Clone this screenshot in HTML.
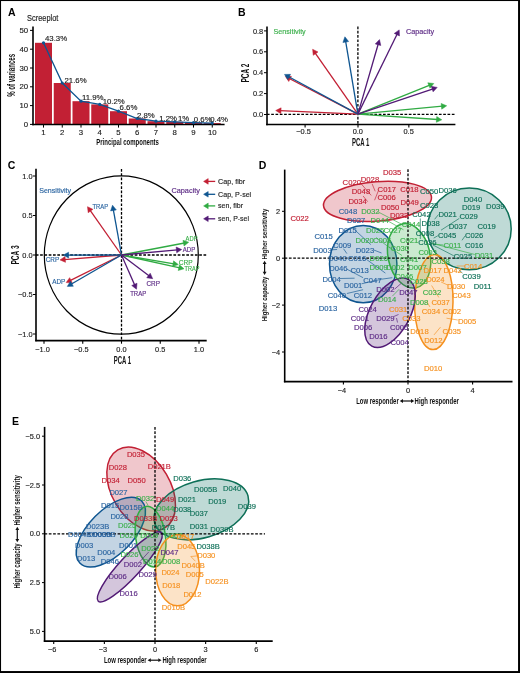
<!DOCTYPE html>
<html><head><meta charset="utf-8"><style>
html,body{margin:0;padding:0;background:#fff;}
body{width:520px;height:673px;overflow:hidden;}
svg{display:block;font-family:"Liberation Sans", sans-serif;}
</style></head><body>
<svg width="520" height="673" viewBox="0 0 520 673">
<rect x="0" y="0" width="520" height="673" fill="#fff"/>
<g style="will-change:transform">
<text x="8.1" y="16.2" font-size="10.5" fill="#000" font-weight="bold">A</text>
<text x="27.1" y="21.3" font-size="8.7" fill="#222" textLength="31.2" lengthAdjust="spacingAndGlyphs" stroke="#222" stroke-width="0.15">Screeplot</text>
<rect x="35" y="42.8" width="17" height="81.6" fill="#C22034"/>
<rect x="53.75" y="83" width="17" height="41.4" fill="#C22034"/>
<rect x="72.5" y="101.2" width="17" height="23.2" fill="#C22034"/>
<rect x="91.25" y="104.4" width="17" height="20" fill="#C22034"/>
<rect x="110" y="111.2" width="17" height="13.2" fill="#C22034"/>
<rect x="128.75" y="118.5" width="17" height="5.9" fill="#C22034"/>
<rect x="147.5" y="121.2" width="17" height="3.2" fill="#C22034"/>
<rect x="166.25" y="121.8" width="17" height="2.6" fill="#C22034"/>
<rect x="185" y="122.6" width="17" height="1.8" fill="#C22034"/>
<rect x="203.75" y="123.1" width="17" height="1.3" fill="#C22034"/>
<line x1="33" y1="26.5" x2="33" y2="125.2" stroke="#000" stroke-width="1.6" stroke-linecap="butt"/>
<line x1="32.2" y1="124.4" x2="224.6" y2="124.4" stroke="#000" stroke-width="1.5" stroke-linecap="butt"/>
<line x1="30" y1="124.4" x2="33" y2="124.4" stroke="#000" stroke-width="1" stroke-linecap="butt"/>
<text x="28.2" y="127" font-size="7.8" fill="#222" text-anchor="end" stroke="#222" stroke-width="0.15">0</text>
<line x1="30" y1="105.6" x2="33" y2="105.6" stroke="#000" stroke-width="1" stroke-linecap="butt"/>
<text x="28.2" y="108.2" font-size="7.8" fill="#222" text-anchor="end" stroke="#222" stroke-width="0.15">10</text>
<line x1="30" y1="86.8" x2="33" y2="86.8" stroke="#000" stroke-width="1" stroke-linecap="butt"/>
<text x="28.2" y="89.4" font-size="7.8" fill="#222" text-anchor="end" stroke="#222" stroke-width="0.15">20</text>
<line x1="30" y1="68" x2="33" y2="68" stroke="#000" stroke-width="1" stroke-linecap="butt"/>
<text x="28.2" y="70.6" font-size="7.8" fill="#222" text-anchor="end" stroke="#222" stroke-width="0.15">30</text>
<line x1="30" y1="49.2" x2="33" y2="49.2" stroke="#000" stroke-width="1" stroke-linecap="butt"/>
<text x="28.2" y="51.8" font-size="7.8" fill="#222" text-anchor="end" stroke="#222" stroke-width="0.15">40</text>
<line x1="30" y1="30.4" x2="33" y2="30.4" stroke="#000" stroke-width="1" stroke-linecap="butt"/>
<text x="28.2" y="33" font-size="7.8" fill="#222" text-anchor="end" stroke="#222" stroke-width="0.15">50</text>
<line x1="43.5" y1="124.4" x2="43.5" y2="127.6" stroke="#000" stroke-width="1" stroke-linecap="butt"/>
<text x="43.5" y="135.3" font-size="7.8" fill="#222" text-anchor="middle" stroke="#222" stroke-width="0.15">1</text>
<line x1="62.25" y1="124.4" x2="62.25" y2="127.6" stroke="#000" stroke-width="1" stroke-linecap="butt"/>
<text x="62.25" y="135.3" font-size="7.8" fill="#222" text-anchor="middle" stroke="#222" stroke-width="0.15">2</text>
<line x1="81" y1="124.4" x2="81" y2="127.6" stroke="#000" stroke-width="1" stroke-linecap="butt"/>
<text x="81" y="135.3" font-size="7.8" fill="#222" text-anchor="middle" stroke="#222" stroke-width="0.15">3</text>
<line x1="99.75" y1="124.4" x2="99.75" y2="127.6" stroke="#000" stroke-width="1" stroke-linecap="butt"/>
<text x="99.75" y="135.3" font-size="7.8" fill="#222" text-anchor="middle" stroke="#222" stroke-width="0.15">4</text>
<line x1="118.5" y1="124.4" x2="118.5" y2="127.6" stroke="#000" stroke-width="1" stroke-linecap="butt"/>
<text x="118.5" y="135.3" font-size="7.8" fill="#222" text-anchor="middle" stroke="#222" stroke-width="0.15">5</text>
<line x1="137.25" y1="124.4" x2="137.25" y2="127.6" stroke="#000" stroke-width="1" stroke-linecap="butt"/>
<text x="137.25" y="135.3" font-size="7.8" fill="#222" text-anchor="middle" stroke="#222" stroke-width="0.15">6</text>
<line x1="156" y1="124.4" x2="156" y2="127.6" stroke="#000" stroke-width="1" stroke-linecap="butt"/>
<text x="156" y="135.3" font-size="7.8" fill="#222" text-anchor="middle" stroke="#222" stroke-width="0.15">7</text>
<line x1="174.75" y1="124.4" x2="174.75" y2="127.6" stroke="#000" stroke-width="1" stroke-linecap="butt"/>
<text x="174.75" y="135.3" font-size="7.8" fill="#222" text-anchor="middle" stroke="#222" stroke-width="0.15">8</text>
<line x1="193.5" y1="124.4" x2="193.5" y2="127.6" stroke="#000" stroke-width="1" stroke-linecap="butt"/>
<text x="193.5" y="135.3" font-size="7.8" fill="#222" text-anchor="middle" stroke="#222" stroke-width="0.15">9</text>
<line x1="212.25" y1="124.4" x2="212.25" y2="127.6" stroke="#000" stroke-width="1" stroke-linecap="butt"/>
<text x="212.25" y="135.3" font-size="7.8" fill="#222" text-anchor="middle" stroke="#222" stroke-width="0.15">10</text>
<polyline points="43.5,42.8 62.25,83 81,101.2 99.75,104.4 118.5,111.2 137.25,118.5 156,121.2 174.75,121.8 193.5,122.6 212.25,123.1" fill="none" stroke="#0E5590" stroke-width="1.3"/>
<circle cx="43.5" cy="42.8" r="1.6" fill="#0E5590"/>
<circle cx="62.25" cy="83" r="1.6" fill="#0E5590"/>
<circle cx="81" cy="101.2" r="1.6" fill="#0E5590"/>
<circle cx="99.75" cy="104.4" r="1.6" fill="#0E5590"/>
<circle cx="118.5" cy="111.2" r="1.6" fill="#0E5590"/>
<circle cx="137.25" cy="118.5" r="1.6" fill="#0E5590"/>
<circle cx="156" cy="121.2" r="1.6" fill="#0E5590"/>
<circle cx="174.75" cy="121.8" r="1.6" fill="#0E5590"/>
<circle cx="193.5" cy="122.6" r="1.6" fill="#0E5590"/>
<circle cx="212.25" cy="123.1" r="1.6" fill="#0E5590"/>
<text x="45" y="41.3" font-size="7.8" fill="#222" stroke="#222" stroke-width="0.15">43.3%</text>
<text x="64.5" y="82.5" font-size="7.8" fill="#222" stroke="#222" stroke-width="0.15">21.6%</text>
<text x="82" y="100.2" font-size="7.8" fill="#222" stroke="#222" stroke-width="0.15">11.9%</text>
<text x="102.7" y="104" font-size="7.8" fill="#222" stroke="#222" stroke-width="0.15">10.2%</text>
<text x="119.6" y="110.4" font-size="7.8" fill="#222" stroke="#222" stroke-width="0.15">6.6%</text>
<text x="137" y="117.5" font-size="7.8" fill="#222" stroke="#222" stroke-width="0.15">2.8%</text>
<text x="159.2" y="121.3" font-size="7.8" fill="#222" stroke="#222" stroke-width="0.15">1.2%</text>
<text x="177.9" y="121.3" font-size="7.8" fill="#222" stroke="#222" stroke-width="0.15">1%</text>
<text x="193.8" y="121.6" font-size="7.8" fill="#222" stroke="#222" stroke-width="0.15">0.6%</text>
<text x="210.2" y="121.6" font-size="7.8" fill="#222" stroke="#222" stroke-width="0.15">0.4%</text>
<text x="127.6" y="144.9" font-size="9.6" fill="#111" text-anchor="middle" textLength="62.7" lengthAdjust="spacingAndGlyphs" font-weight="bold">Principal components</text>
<text x="15.3" y="75.3" font-size="10.4" fill="#111" text-anchor="middle" textLength="43" lengthAdjust="spacingAndGlyphs" font-weight="bold" transform="rotate(-90 15.3 75.3)">% of variances</text>
<text x="238" y="16.2" font-size="10.5" fill="#000" font-weight="bold">B</text>
<line x1="357.9" y1="26.5" x2="357.9" y2="124.3" stroke="#000" stroke-width="1.3" stroke-dasharray="2.7,1.6" stroke-linecap="butt"/>
<line x1="266.9" y1="114.35" x2="455" y2="114.35" stroke="#000" stroke-width="1.3" stroke-dasharray="2.7,1.6" stroke-linecap="butt"/>
<line x1="267" y1="26.5" x2="267" y2="125.3" stroke="#000" stroke-width="1.6" stroke-linecap="butt"/>
<line x1="266.2" y1="124.5" x2="455.4" y2="124.5" stroke="#000" stroke-width="1.6" stroke-linecap="butt"/>
<line x1="264" y1="114.5" x2="266.9" y2="114.5" stroke="#000" stroke-width="1" stroke-linecap="butt"/>
<text x="263.2" y="117.1" font-size="7.4" fill="#222" text-anchor="end" stroke="#222" stroke-width="0.15">0.0</text>
<line x1="264" y1="93.6" x2="266.9" y2="93.6" stroke="#000" stroke-width="1" stroke-linecap="butt"/>
<text x="263.2" y="96.2" font-size="7.4" fill="#222" text-anchor="end" stroke="#222" stroke-width="0.15">0.2</text>
<line x1="264" y1="72.7" x2="266.9" y2="72.7" stroke="#000" stroke-width="1" stroke-linecap="butt"/>
<text x="263.2" y="75.3" font-size="7.4" fill="#222" text-anchor="end" stroke="#222" stroke-width="0.15">0.4</text>
<line x1="264" y1="51.8" x2="266.9" y2="51.8" stroke="#000" stroke-width="1" stroke-linecap="butt"/>
<text x="263.2" y="54.4" font-size="7.4" fill="#222" text-anchor="end" stroke="#222" stroke-width="0.15">0.6</text>
<line x1="264" y1="30.9" x2="266.9" y2="30.9" stroke="#000" stroke-width="1" stroke-linecap="butt"/>
<text x="263.2" y="33.5" font-size="7.4" fill="#222" text-anchor="end" stroke="#222" stroke-width="0.15">0.8</text>
<line x1="305.1" y1="124.5" x2="305.1" y2="127.6" stroke="#000" stroke-width="1.1" stroke-linecap="butt"/>
<text x="303.5" y="134.1" font-size="7.4" fill="#222" text-anchor="middle" stroke="#222" stroke-width="0.15">−0.5</text>
<line x1="358" y1="124.5" x2="358" y2="127.6" stroke="#000" stroke-width="1.1" stroke-linecap="butt"/>
<text x="357.8" y="134.1" font-size="7.4" fill="#222" text-anchor="middle" stroke="#222" stroke-width="0.15">0.0</text>
<line x1="408.85" y1="124.5" x2="408.85" y2="127.6" stroke="#000" stroke-width="1.1" stroke-linecap="butt"/>
<text x="408.65" y="134.1" font-size="7.4" fill="#222" text-anchor="middle" stroke="#222" stroke-width="0.15">0.5</text>
<text x="360.6" y="145.8" font-size="10.8" fill="#111" text-anchor="middle" textLength="17.3" lengthAdjust="spacingAndGlyphs" font-weight="bold">PCA 1</text>
<text x="248.8" y="73" font-size="10.8" fill="#111" text-anchor="middle" textLength="19" lengthAdjust="spacingAndGlyphs" font-weight="bold" transform="rotate(-90 248.8 73)">PCA 2</text>
<text x="273.5" y="34.3" font-size="7.2" fill="#3AAF4A" textLength="32.2" lengthAdjust="spacingAndGlyphs" stroke="#3AAF4A" stroke-width="0.15">Sensitivity</text>
<text x="406" y="34.3" font-size="7.2" fill="#5C2A85" textLength="28.2" lengthAdjust="spacingAndGlyphs" stroke="#5C2A85" stroke-width="0.15">Capacity</text>
<line x1="357.9" y1="114.1" x2="280" y2="110.69" stroke="#C22034" stroke-width="1.3"/>
<polygon points="275.7,110.5 281.12,107.83 280.87,113.63" fill="#C22034" stroke="#C22034" stroke-width="0.5" stroke-linejoin="miter"/>
<line x1="357.9" y1="114.1" x2="289.22" y2="78.48" stroke="#C22034" stroke-width="1.3"/>
<polygon points="285.4,76.5 291.44,76.37 288.77,81.51" fill="#C22034" stroke="#C22034" stroke-width="0.5" stroke-linejoin="miter"/>
<line x1="357.9" y1="114.1" x2="315.06" y2="52.82" stroke="#C22034" stroke-width="1.3"/>
<polygon points="312.6,49.3 318.01,51.98 313.26,55.31" fill="#C22034" stroke="#C22034" stroke-width="0.5" stroke-linejoin="miter"/>
<line x1="357.9" y1="114.1" x2="288.28" y2="76.45" stroke="#0E5590" stroke-width="1.3"/>
<polygon points="284.5,74.4 290.54,74.37 287.78,79.47" fill="#0E5590" stroke="#0E5590" stroke-width="0.5" stroke-linejoin="miter"/>
<line x1="357.9" y1="114.1" x2="345.61" y2="41.04" stroke="#0E5590" stroke-width="1.3"/>
<polygon points="344.9,36.8 348.64,41.55 342.92,42.51" fill="#0E5590" stroke="#0E5590" stroke-width="0.5" stroke-linejoin="miter"/>
<line x1="357.9" y1="114.1" x2="429.81" y2="85.11" stroke="#30AB43" stroke-width="1.3"/>
<polygon points="433.8,83.5 429.97,88.17 427.8,82.79" fill="#30AB43" stroke="#30AB43" stroke-width="0.5" stroke-linejoin="miter"/>
<line x1="357.9" y1="114.1" x2="442.42" y2="106.2" stroke="#30AB43" stroke-width="1.3"/>
<polygon points="446.7,105.8 441.69,109.18 441.15,103.41" fill="#30AB43" stroke="#30AB43" stroke-width="0.5" stroke-linejoin="miter"/>
<line x1="357.9" y1="114.1" x2="437.51" y2="119.51" stroke="#30AB43" stroke-width="1.3"/>
<polygon points="441.8,119.8 436.32,122.33 436.71,116.55" fill="#30AB43" stroke="#30AB43" stroke-width="0.5" stroke-linejoin="miter"/>
<line x1="357.9" y1="114.1" x2="378.3" y2="43.73" stroke="#521A75" stroke-width="1.3"/>
<polygon points="379.5,39.6 380.81,45.5 375.24,43.88" fill="#521A75" stroke="#521A75" stroke-width="0.5" stroke-linejoin="miter"/>
<line x1="357.9" y1="114.1" x2="397.31" y2="33.76" stroke="#521A75" stroke-width="1.3"/>
<polygon points="399.2,29.9 399.47,35.94 394.26,33.38" fill="#521A75" stroke="#521A75" stroke-width="0.5" stroke-linejoin="miter"/>
<line x1="357.9" y1="114.1" x2="433.12" y2="88.77" stroke="#521A75" stroke-width="1.3"/>
<polygon points="437.2,87.4 433.1,91.84 431.25,86.34" fill="#521A75" stroke="#521A75" stroke-width="0.5" stroke-linejoin="miter"/>
<text x="7.7" y="169.2" font-size="10.5" fill="#000" font-weight="bold">C</text>
<ellipse cx="121.3" cy="255" rx="77" ry="79.2" fill="none" stroke="#000" stroke-width="1.2"/>
<line x1="121.5" y1="169" x2="121.5" y2="340.5" stroke="#000" stroke-width="1.3" stroke-dasharray="2.7,1.6" stroke-linecap="butt"/>
<line x1="35.8" y1="255" x2="207" y2="255" stroke="#000" stroke-width="1.3" stroke-dasharray="2.7,1.6" stroke-linecap="butt"/>
<line x1="36" y1="168.8" x2="36" y2="341.3" stroke="#000" stroke-width="1.6" stroke-linecap="butt"/>
<line x1="35.2" y1="340.6" x2="206.7" y2="340.6" stroke="#000" stroke-width="1.6" stroke-linecap="butt"/>
<line x1="33" y1="176" x2="35.8" y2="176" stroke="#000" stroke-width="1" stroke-linecap="butt"/>
<text x="32.6" y="178.6" font-size="7.4" fill="#222" text-anchor="end" stroke="#222" stroke-width="0.15">1.0</text>
<line x1="33" y1="215.5" x2="35.8" y2="215.5" stroke="#000" stroke-width="1" stroke-linecap="butt"/>
<text x="32.6" y="218.1" font-size="7.4" fill="#222" text-anchor="end" stroke="#222" stroke-width="0.15">0.5</text>
<line x1="33" y1="255" x2="35.8" y2="255" stroke="#000" stroke-width="1" stroke-linecap="butt"/>
<text x="32.6" y="257.6" font-size="7.4" fill="#222" text-anchor="end" stroke="#222" stroke-width="0.15">0.0</text>
<line x1="33" y1="294.5" x2="35.8" y2="294.5" stroke="#000" stroke-width="1" stroke-linecap="butt"/>
<text x="32.6" y="297.1" font-size="7.4" fill="#222" text-anchor="end" stroke="#222" stroke-width="0.15">−0.5</text>
<line x1="33" y1="334" x2="35.8" y2="334" stroke="#000" stroke-width="1" stroke-linecap="butt"/>
<text x="32.6" y="336.6" font-size="7.4" fill="#222" text-anchor="end" stroke="#222" stroke-width="0.15">−1.0</text>
<line x1="44" y1="340.6" x2="44" y2="343.7" stroke="#000" stroke-width="1.1" stroke-linecap="butt"/>
<text x="42.5" y="351.7" font-size="7.4" fill="#222" text-anchor="middle" stroke="#222" stroke-width="0.15">−1.0</text>
<line x1="82.75" y1="340.6" x2="82.75" y2="343.7" stroke="#000" stroke-width="1.1" stroke-linecap="butt"/>
<text x="81.25" y="351.7" font-size="7.4" fill="#222" text-anchor="middle" stroke="#222" stroke-width="0.15">−0.5</text>
<line x1="121.5" y1="340.6" x2="121.5" y2="343.7" stroke="#000" stroke-width="1.1" stroke-linecap="butt"/>
<text x="121.5" y="351.7" font-size="7.4" fill="#222" text-anchor="middle" stroke="#222" stroke-width="0.15">0.0</text>
<line x1="160.25" y1="340.6" x2="160.25" y2="343.7" stroke="#000" stroke-width="1.1" stroke-linecap="butt"/>
<text x="160.25" y="351.7" font-size="7.4" fill="#222" text-anchor="middle" stroke="#222" stroke-width="0.15">0.5</text>
<line x1="199" y1="340.6" x2="199" y2="343.7" stroke="#000" stroke-width="1.1" stroke-linecap="butt"/>
<text x="199" y="351.7" font-size="7.4" fill="#222" text-anchor="middle" stroke="#222" stroke-width="0.15">1.0</text>
<text x="122.5" y="363.5" font-size="10.8" fill="#111" text-anchor="middle" textLength="17.3" lengthAdjust="spacingAndGlyphs" font-weight="bold">PCA 1</text>
<text x="19.3" y="255" font-size="10.8" fill="#111" text-anchor="middle" textLength="19.2" lengthAdjust="spacingAndGlyphs" font-weight="bold" transform="rotate(-90 19.3 255)">PCA 3</text>
<text x="39.2" y="193.2" font-size="7.2" fill="#2A64A0" textLength="31.9" lengthAdjust="spacingAndGlyphs" stroke="#2A64A0" stroke-width="0.15">Sensitivity</text>
<text x="171.4" y="192.9" font-size="7.2" fill="#5C2A85" textLength="28.6" lengthAdjust="spacingAndGlyphs" stroke="#5C2A85" stroke-width="0.15">Capacity</text>
<line x1="121.5" y1="255" x2="89.98" y2="210.22" stroke="#C22034" stroke-width="1.3"/>
<polygon points="87.5,206.7 92.92,209.36 88.18,212.7" fill="#C22034" stroke="#C22034" stroke-width="0.5" stroke-linejoin="miter"/>
<line x1="121.5" y1="255" x2="64.29" y2="259.56" stroke="#C22034" stroke-width="1.3"/>
<polygon points="60,259.9 65.05,256.59 65.51,262.37" fill="#C22034" stroke="#C22034" stroke-width="0.5" stroke-linejoin="miter"/>
<line x1="121.5" y1="255" x2="70.05" y2="280.68" stroke="#C22034" stroke-width="1.3"/>
<polygon points="66.2,282.6 69.65,277.64 72.24,282.83" fill="#C22034" stroke="#C22034" stroke-width="0.5" stroke-linejoin="miter"/>
<line x1="121.5" y1="255" x2="113.26" y2="209.43" stroke="#0E5590" stroke-width="1.3"/>
<polygon points="112.5,205.2 116.3,209.9 110.59,210.93" fill="#0E5590" stroke="#0E5590" stroke-width="0.5" stroke-linejoin="miter"/>
<line x1="121.5" y1="255" x2="67.6" y2="255.09" stroke="#0E5590" stroke-width="1.3"/>
<polygon points="63.3,255.1 68.6,252.19 68.6,257.99" fill="#0E5590" stroke="#0E5590" stroke-width="0.5" stroke-linejoin="miter"/>
<line x1="121.5" y1="255" x2="71.02" y2="284.24" stroke="#0E5590" stroke-width="1.3"/>
<polygon points="67.3,286.4 70.43,281.23 73.34,286.25" fill="#0E5590" stroke="#0E5590" stroke-width="0.5" stroke-linejoin="miter"/>
<line x1="121.5" y1="255" x2="184.48" y2="243" stroke="#30AB43" stroke-width="1.3"/>
<polygon points="188.7,242.2 184.04,246.04 182.95,240.34" fill="#30AB43" stroke="#30AB43" stroke-width="0.5" stroke-linejoin="miter"/>
<line x1="121.5" y1="255" x2="174.06" y2="263.88" stroke="#30AB43" stroke-width="1.3"/>
<polygon points="178.3,264.6 172.59,266.58 173.56,260.86" fill="#30AB43" stroke="#30AB43" stroke-width="0.5" stroke-linejoin="miter"/>
<line x1="121.5" y1="255" x2="179.8" y2="267.87" stroke="#30AB43" stroke-width="1.3"/>
<polygon points="184,268.8 178.2,270.49 179.45,264.83" fill="#30AB43" stroke="#30AB43" stroke-width="0.5" stroke-linejoin="miter"/>
<line x1="121.5" y1="255" x2="177.42" y2="249.89" stroke="#521A75" stroke-width="1.3"/>
<polygon points="181.7,249.5 176.69,252.87 176.16,247.09" fill="#521A75" stroke="#521A75" stroke-width="0.5" stroke-linejoin="miter"/>
<line x1="121.5" y1="255" x2="149.28" y2="276.1" stroke="#521A75" stroke-width="1.3"/>
<polygon points="152.7,278.7 146.73,277.8 150.23,273.18" fill="#521A75" stroke="#521A75" stroke-width="0.5" stroke-linejoin="miter"/>
<line x1="121.5" y1="255" x2="134.77" y2="285.26" stroke="#521A75" stroke-width="1.3"/>
<polygon points="136.5,289.2 131.72,285.51 137.03,283.18" fill="#521A75" stroke="#521A75" stroke-width="0.5" stroke-linejoin="miter"/>
<text x="92.5" y="209" font-size="6.6" fill="#2A64A0" textLength="15.6" lengthAdjust="spacingAndGlyphs" stroke="#2A64A0" stroke-width="0.15">TRAP</text>
<text x="45.7" y="262.2" font-size="6.6" fill="#2A64A0" textLength="13.5" lengthAdjust="spacingAndGlyphs" stroke="#2A64A0" stroke-width="0.15">CRP</text>
<text x="52.3" y="284.2" font-size="6.6" fill="#2A64A0" textLength="13" lengthAdjust="spacingAndGlyphs" stroke="#2A64A0" stroke-width="0.15">ADP</text>
<text x="185.6" y="241.2" font-size="6.6" fill="#3AAF4A" textLength="11.9" lengthAdjust="spacingAndGlyphs" stroke="#3AAF4A" stroke-width="0.15">ADP</text>
<text x="182.7" y="251.5" font-size="6.6" fill="#5C2A85" textLength="12.5" lengthAdjust="spacingAndGlyphs" stroke="#5C2A85" stroke-width="0.15">ADP</text>
<text x="178.8" y="264.6" font-size="6.6" fill="#3AAF4A" textLength="13.9" lengthAdjust="spacingAndGlyphs" stroke="#3AAF4A" stroke-width="0.15">CRP</text>
<text x="184.6" y="270.8" font-size="6.6" fill="#3AAF4A" textLength="14.8" lengthAdjust="spacingAndGlyphs" stroke="#3AAF4A" stroke-width="0.15">TRAP</text>
<text x="146.5" y="285.8" font-size="6.6" fill="#5C2A85" textLength="13.5" lengthAdjust="spacingAndGlyphs" stroke="#5C2A85" stroke-width="0.15">CRP</text>
<text x="130.2" y="296.3" font-size="6.6" fill="#5C2A85" textLength="16" lengthAdjust="spacingAndGlyphs" stroke="#5C2A85" stroke-width="0.15">TRAP</text>
<line x1="215.2" y1="181.4" x2="207.2" y2="181.4" stroke="#C22034" stroke-width="1.3"/>
<polygon points="203.6,181.4 208.2,178.6 208.2,184.2" fill="#C22034" stroke="#C22034" stroke-width="0.5" stroke-linejoin="miter"/>
<text x="218.1" y="183.9" font-size="7.6" fill="#222" textLength="27.1" lengthAdjust="spacingAndGlyphs" stroke="#222" stroke-width="0.15">Cap, fibr</text>
<line x1="215.2" y1="194.3" x2="207.2" y2="194.3" stroke="#0E5590" stroke-width="1.3"/>
<polygon points="203.6,194.3 208.2,191.5 208.2,197.1" fill="#0E5590" stroke="#0E5590" stroke-width="0.5" stroke-linejoin="miter"/>
<text x="218.1" y="196.8" font-size="7.6" fill="#222" textLength="33.1" lengthAdjust="spacingAndGlyphs" stroke="#222" stroke-width="0.15">Cap, P-sel</text>
<line x1="215.2" y1="205.9" x2="207.2" y2="205.9" stroke="#30AB43" stroke-width="1.3"/>
<polygon points="203.6,205.9 208.2,203.1 208.2,208.7" fill="#30AB43" stroke="#30AB43" stroke-width="0.5" stroke-linejoin="miter"/>
<text x="218.1" y="208.4" font-size="7.6" fill="#222" textLength="25" lengthAdjust="spacingAndGlyphs" stroke="#222" stroke-width="0.15">sen, fibr</text>
<line x1="215.2" y1="218.8" x2="207.2" y2="218.8" stroke="#521A75" stroke-width="1.3"/>
<polygon points="203.6,218.8 208.2,216 208.2,221.6" fill="#521A75" stroke="#521A75" stroke-width="0.5" stroke-linejoin="miter"/>
<text x="218.1" y="221.3" font-size="7.6" fill="#222" textLength="30.9" lengthAdjust="spacingAndGlyphs" stroke="#222" stroke-width="0.15">sen, P-sel</text>
<text x="258.8" y="168.8" font-size="10.5" fill="#000" font-weight="bold">D</text>
<ellipse cx="377.5" cy="201.35" rx="54.15" ry="19.75" transform="rotate(-4.55 377.5 201.35)" fill="#C22034" fill-opacity="0.25" stroke="#C22034" stroke-width="1.5"/>
<ellipse cx="469.3" cy="228.9" rx="41.9" ry="40.8" transform="rotate(0 469.3 228.9)" fill="#006B5B" fill-opacity="0.25" stroke="#0D6F57" stroke-width="1.5"/>
<ellipse cx="363.2" cy="264.1" rx="33.7" ry="38.7" transform="rotate(0 363.2 264.1)" fill="#0E5590" fill-opacity="0.25" stroke="#0E5590" stroke-width="1.5"/>
<ellipse cx="409.1" cy="255.8" rx="21" ry="32.6" transform="rotate(-12.3 409.1 255.8)" fill="#30AB43" fill-opacity="0.25" stroke="#30AB43" stroke-width="1.5"/>
<ellipse cx="433.8" cy="302" rx="19.2" ry="47.6" transform="rotate(1 433.8 302)" fill="#F5901E" fill-opacity="0.25" stroke="#F5901E" stroke-width="1.5"/>
<ellipse cx="390" cy="312.7" rx="20" ry="38" transform="rotate(28.6 390 312.7)" fill="#521A75" fill-opacity="0.25" stroke="#521A75" stroke-width="1.5"/>
<line x1="360.2" y1="182.7" x2="371.2" y2="195.4" stroke="#C22034" stroke-width="0.65" stroke-linecap="butt"/>
<line x1="372.1" y1="183.8" x2="375.2" y2="191.3" stroke="#C22034" stroke-width="0.65" stroke-linecap="butt"/>
<line x1="363.1" y1="196" x2="367.7" y2="201.7" stroke="#C22034" stroke-width="0.65" stroke-linecap="butt"/>
<line x1="378.6" y1="190.2" x2="374.6" y2="200.2" stroke="#C22034" stroke-width="0.65" stroke-linecap="butt"/>
<line x1="355" y1="230.2" x2="370.8" y2="244.6" stroke="#0E5590" stroke-width="0.65" stroke-linecap="butt"/>
<line x1="373.8" y1="250" x2="381.5" y2="253" stroke="#0E5590" stroke-width="0.65" stroke-linecap="butt"/>
<line x1="343.5" y1="248.7" x2="346.9" y2="253.6" stroke="#0E5590" stroke-width="0.65" stroke-linecap="butt"/>
<line x1="331.3" y1="249.8" x2="337.1" y2="249.5" stroke="#0E5590" stroke-width="0.65" stroke-linecap="butt"/>
<line x1="366.2" y1="259.2" x2="385.4" y2="273.1" stroke="#0E5590" stroke-width="0.65" stroke-linecap="butt"/>
<line x1="346.9" y1="269.2" x2="363.1" y2="277.7" stroke="#0E5590" stroke-width="0.65" stroke-linecap="butt"/>
<line x1="340" y1="278.5" x2="354.6" y2="278.2" stroke="#0E5590" stroke-width="0.65" stroke-linecap="butt"/>
<line x1="361.5" y1="283.8" x2="381.5" y2="279.2" stroke="#0E5590" stroke-width="0.65" stroke-linecap="butt"/>
<line x1="381.5" y1="279.2" x2="392.3" y2="277.7" stroke="#0E5590" stroke-width="0.65" stroke-linecap="butt"/>
<line x1="346.9" y1="293.5" x2="363.1" y2="289.7" stroke="#0E5590" stroke-width="0.65" stroke-linecap="butt"/>
<line x1="378.1" y1="211.9" x2="401.2" y2="224" stroke="#30AB43" stroke-width="0.65" stroke-linecap="butt"/>
<line x1="386.2" y1="220" x2="403.5" y2="229.8" stroke="#30AB43" stroke-width="0.65" stroke-linecap="butt"/>
<line x1="392.3" y1="296.2" x2="399.2" y2="289.2" stroke="#30AB43" stroke-width="0.65" stroke-linecap="butt"/>
<line x1="388.5" y1="238.5" x2="393.7" y2="248.3" stroke="#30AB43" stroke-width="0.65" stroke-linecap="butt"/>
<line x1="474.8" y1="254.5" x2="431" y2="243" stroke="#30AB43" stroke-width="0.65" stroke-linecap="butt"/>
<line x1="443.4" y1="245" x2="432.5" y2="244" stroke="#30AB43" stroke-width="0.65" stroke-linecap="butt"/>
<line x1="376" y1="237.5" x2="390" y2="248" stroke="#30AB43" stroke-width="0.65" stroke-linecap="butt"/>
<line x1="389" y1="247" x2="402" y2="255.5" stroke="#30AB43" stroke-width="0.65" stroke-linecap="butt"/>
<line x1="438.5" y1="214.5" x2="434.6" y2="219.3" stroke="#0D6F57" stroke-width="0.65" stroke-linecap="butt"/>
<line x1="459.3" y1="218.4" x2="441" y2="230.2" stroke="#0D6F57" stroke-width="0.65" stroke-linecap="butt"/>
<line x1="437.9" y1="235.7" x2="433.7" y2="238.1" stroke="#0D6F57" stroke-width="0.65" stroke-linecap="butt"/>
<line x1="465" y1="236" x2="462" y2="240.3" stroke="#0D6F57" stroke-width="0.65" stroke-linecap="butt"/>
<line x1="453.8" y1="255.8" x2="432.8" y2="244.9" stroke="#0D6F57" stroke-width="0.65" stroke-linecap="butt"/>
<line x1="459" y1="270.1" x2="462.5" y2="273.1" stroke="#0D6F57" stroke-width="0.65" stroke-linecap="butt"/>
<line x1="420.3" y1="218.5" x2="420.3" y2="239" stroke="#0D6F57" stroke-width="0.65" stroke-linecap="butt"/>
<line x1="441.1" y1="282" x2="447.7" y2="285" stroke="#F5901E" stroke-width="0.65" stroke-linecap="butt"/>
<line x1="431.6" y1="285.5" x2="438.8" y2="297.4" stroke="#F5901E" stroke-width="0.65" stroke-linecap="butt"/>
<line x1="426.9" y1="301.6" x2="429.9" y2="306.9" stroke="#F5901E" stroke-width="0.65" stroke-linecap="butt"/>
<line x1="446.5" y1="318.2" x2="457.8" y2="320" stroke="#F5901E" stroke-width="0.65" stroke-linecap="butt"/>
<line x1="440.5" y1="327.1" x2="434" y2="334.9" stroke="#F5901E" stroke-width="0.65" stroke-linecap="butt"/>
<line x1="456.6" y1="266" x2="464.9" y2="266" stroke="#F5901E" stroke-width="0.65" stroke-linecap="butt"/>
<line x1="394.6" y1="289.2" x2="401" y2="283.5" stroke="#521A75" stroke-width="0.65" stroke-linecap="butt"/>
<line x1="393.8" y1="316.5" x2="398.5" y2="314.5" stroke="#521A75" stroke-width="0.65" stroke-linecap="butt"/>
<line x1="396.5" y1="318" x2="397.5" y2="322.5" stroke="#521A75" stroke-width="0.65" stroke-linecap="butt"/>
<line x1="408" y1="169.2" x2="408" y2="381.3" stroke="#000" stroke-width="1.3" stroke-dasharray="2.7,1.6" stroke-linecap="butt"/>
<line x1="284.6" y1="258.2" x2="510.8" y2="258.2" stroke="#000" stroke-width="1.3" stroke-dasharray="2.7,1.6" stroke-linecap="butt"/>
<line x1="284.7" y1="169.6" x2="284.7" y2="382.3" stroke="#000" stroke-width="1.6" stroke-linecap="butt"/>
<line x1="283.9" y1="381.6" x2="512.5" y2="381.6" stroke="#000" stroke-width="1.6" stroke-linecap="butt"/>
<line x1="282" y1="211.3" x2="284.6" y2="211.3" stroke="#000" stroke-width="1" stroke-linecap="butt"/>
<text x="280.2" y="213.9" font-size="7.4" fill="#222" text-anchor="end" stroke="#222" stroke-width="0.15">2</text>
<line x1="282" y1="258.2" x2="284.6" y2="258.2" stroke="#000" stroke-width="1" stroke-linecap="butt"/>
<text x="280.2" y="260.8" font-size="7.4" fill="#222" text-anchor="end" stroke="#222" stroke-width="0.15">0</text>
<line x1="282" y1="305.1" x2="284.6" y2="305.1" stroke="#000" stroke-width="1" stroke-linecap="butt"/>
<text x="280.2" y="307.7" font-size="7.4" fill="#222" text-anchor="end" stroke="#222" stroke-width="0.15">−2</text>
<line x1="282" y1="352" x2="284.6" y2="352" stroke="#000" stroke-width="1" stroke-linecap="butt"/>
<text x="280.2" y="354.6" font-size="7.4" fill="#222" text-anchor="end" stroke="#222" stroke-width="0.15">−4</text>
<line x1="343.4" y1="381.6" x2="343.4" y2="384.6" stroke="#000" stroke-width="1.1" stroke-linecap="butt"/>
<text x="341.9" y="392.9" font-size="7.4" fill="#222" text-anchor="middle" stroke="#222" stroke-width="0.15">−4</text>
<line x1="408" y1="381.6" x2="408" y2="384.6" stroke="#000" stroke-width="1.1" stroke-linecap="butt"/>
<text x="408" y="392.9" font-size="7.4" fill="#222" text-anchor="middle" stroke="#222" stroke-width="0.15">0</text>
<line x1="472.6" y1="381.6" x2="472.6" y2="384.6" stroke="#000" stroke-width="1.1" stroke-linecap="butt"/>
<text x="472.6" y="392.9" font-size="7.4" fill="#222" text-anchor="middle" stroke="#222" stroke-width="0.15">4</text>
<text x="356.2" y="403.6" font-size="8.4" fill="#111" textLength="42.5" lengthAdjust="spacingAndGlyphs" font-weight="bold">Low responder</text>
<line x1="402.5" y1="401" x2="411.5" y2="401" stroke="#111" stroke-width="1.2" stroke-linecap="butt"/>
<polygon points="399.8,401 403,399.1 403,402.9" fill="#111"/>
<polygon points="414.2,401 411,399.1 411,402.9" fill="#111"/>
<text x="414.6" y="403.6" font-size="8.4" fill="#111" textLength="44.2" lengthAdjust="spacingAndGlyphs" font-weight="bold">High responder</text>
<text x="267" y="321.3" font-size="8.0" fill="#111" textLength="44.5" lengthAdjust="spacingAndGlyphs" font-weight="bold" transform="rotate(-90 267 321.3)">Higher capacity</text>
<line x1="264.6" y1="263.4" x2="264.6" y2="272.3" stroke="#111" stroke-width="1.2" stroke-linecap="butt"/>
<polygon points="264.6,260.7 262.7,263.9 266.5,263.9" fill="#111"/>
<polygon points="264.6,275 262.7,271.8 266.5,271.8" fill="#111"/>
<text x="267" y="259.6" font-size="8.0" fill="#111" textLength="50.9" lengthAdjust="spacingAndGlyphs" font-weight="bold" transform="rotate(-90 267 259.6)">Higher sensitivity</text>
<text x="383" y="174.9" font-size="7.7" fill="#C22034" stroke="#C22034" stroke-width="0.15">D035</text>
<text x="342.6" y="185" font-size="7.7" fill="#C22034" stroke="#C22034" stroke-width="0.15">C020</text>
<text x="360.8" y="182.1" font-size="7.7" fill="#C22034" stroke="#C22034" stroke-width="0.15">D028</text>
<text x="351.8" y="194.4" font-size="7.7" fill="#C22034" stroke="#C22034" stroke-width="0.15">D048</text>
<text x="377.6" y="191.7" font-size="7.7" fill="#C22034" stroke="#C22034" stroke-width="0.15">C017</text>
<text x="400.2" y="191.7" font-size="7.7" fill="#C22034" stroke="#C22034" stroke-width="0.15">C018</text>
<text x="348.4" y="204.2" font-size="7.7" fill="#C22034" stroke="#C22034" stroke-width="0.15">D034</text>
<text x="377.5" y="200.2" font-size="7.7" fill="#C22034" stroke="#C22034" stroke-width="0.15">C006</text>
<text x="400.5" y="205.4" font-size="7.7" fill="#C22034" stroke="#C22034" stroke-width="0.15">D049</text>
<text x="380.9" y="210.2" font-size="7.7" fill="#C22034" stroke="#C22034" stroke-width="0.15">D050</text>
<text x="390" y="217.7" font-size="7.7" fill="#C22034" stroke="#C22034" stroke-width="0.15">D033</text>
<text x="290.4" y="221.2" font-size="7.7" fill="#C22034" stroke="#C22034" stroke-width="0.15">C022</text>
<text x="420" y="193.8" font-size="7.7" fill="#0D6F57" stroke="#0D6F57" stroke-width="0.15">C050</text>
<text x="438.4" y="193.2" font-size="7.7" fill="#0D6F57" stroke="#0D6F57" stroke-width="0.15">D036</text>
<text x="463.8" y="202" font-size="7.7" fill="#0D6F57" stroke="#0D6F57" stroke-width="0.15">D040</text>
<text x="462" y="209.9" font-size="7.7" fill="#0D6F57" stroke="#0D6F57" stroke-width="0.15">D019</text>
<text x="486.1" y="209.3" font-size="7.7" fill="#0D6F57" stroke="#0D6F57" stroke-width="0.15">D039</text>
<text x="420" y="207.5" font-size="7.7" fill="#0D6F57" stroke="#0D6F57" stroke-width="0.15">C023</text>
<text x="412.3" y="216.9" font-size="7.7" fill="#0D6F57" stroke="#0D6F57" stroke-width="0.15">C042</text>
<text x="438.5" y="216.7" font-size="7.7" fill="#0D6F57" stroke="#0D6F57" stroke-width="0.15">D021</text>
<text x="459.4" y="218.9" font-size="7.7" fill="#0D6F57" stroke="#0D6F57" stroke-width="0.15">C029</text>
<text x="421.5" y="226.4" font-size="7.7" fill="#0D6F57" stroke="#0D6F57" stroke-width="0.15">D038</text>
<text x="448.8" y="228.7" font-size="7.7" fill="#0D6F57" stroke="#0D6F57" stroke-width="0.15">D037</text>
<text x="477.5" y="228.7" font-size="7.7" fill="#0D6F57" stroke="#0D6F57" stroke-width="0.15">C019</text>
<text x="415.8" y="235.5" font-size="7.7" fill="#0D6F57" stroke="#0D6F57" stroke-width="0.15">C008</text>
<text x="438" y="238" font-size="7.7" fill="#0D6F57" stroke="#0D6F57" stroke-width="0.15">C045</text>
<text x="465" y="238" font-size="7.7" fill="#0D6F57" stroke="#0D6F57" stroke-width="0.15">C026</text>
<text x="418.2" y="244.6" font-size="7.7" fill="#0D6F57" stroke="#0D6F57" stroke-width="0.15">C036</text>
<text x="465" y="248.1" font-size="7.7" fill="#0D6F57" stroke="#0D6F57" stroke-width="0.15">C016</text>
<text x="453.8" y="258.7" font-size="7.7" fill="#0D6F57" stroke="#0D6F57" stroke-width="0.15">C025</text>
<text x="462.3" y="279.2" font-size="7.7" fill="#0D6F57" stroke="#0D6F57" stroke-width="0.15">C039</text>
<text x="473.8" y="289.2" font-size="7.7" fill="#0D6F57" stroke="#0D6F57" stroke-width="0.15">D011</text>
<text x="338.8" y="213.8" font-size="7.7" fill="#2A64A0" stroke="#2A64A0" stroke-width="0.15">C048</text>
<text x="347" y="222.5" font-size="7.7" fill="#2A64A0" stroke="#2A64A0" stroke-width="0.15">D027</text>
<text x="338.5" y="232.5" font-size="7.7" fill="#2A64A0" stroke="#2A64A0" stroke-width="0.15">D015</text>
<text x="314.5" y="238.8" font-size="7.7" fill="#2A64A0" stroke="#2A64A0" stroke-width="0.15">C015</text>
<text x="333" y="247.9" font-size="7.7" fill="#2A64A0" stroke="#2A64A0" stroke-width="0.15">C009</text>
<text x="313.3" y="253.1" font-size="7.7" fill="#2A64A0" stroke="#2A64A0" stroke-width="0.15">D003</text>
<text x="355.8" y="252.7" font-size="7.7" fill="#2A64A0" stroke="#2A64A0" stroke-width="0.15">D023</text>
<text x="328.3" y="261.3" font-size="7.7" fill="#2A64A0" stroke="#2A64A0" stroke-width="0.15">D040</text>
<text x="348" y="261.3" font-size="7.7" fill="#2A64A0" stroke="#2A64A0" stroke-width="0.15">C016</text>
<text x="329.2" y="271" font-size="7.7" fill="#2A64A0" stroke="#2A64A0" stroke-width="0.15">D046</text>
<text x="350.4" y="272.9" font-size="7.7" fill="#2A64A0" stroke="#2A64A0" stroke-width="0.15">C013</text>
<text x="322.4" y="282" font-size="7.7" fill="#2A64A0" stroke="#2A64A0" stroke-width="0.15">D004</text>
<text x="363.3" y="282.5" font-size="7.7" fill="#2A64A0" stroke="#2A64A0" stroke-width="0.15">C047</text>
<text x="344" y="287.5" font-size="7.7" fill="#2A64A0" stroke="#2A64A0" stroke-width="0.15">D001</text>
<text x="327.7" y="297.7" font-size="7.7" fill="#2A64A0" stroke="#2A64A0" stroke-width="0.15">C040</text>
<text x="353.7" y="297.9" font-size="7.7" fill="#2A64A0" stroke="#2A64A0" stroke-width="0.15">C012</text>
<text x="318.8" y="311.2" font-size="7.7" fill="#2A64A0" stroke="#2A64A0" stroke-width="0.15">D013</text>
<text x="361.2" y="214" font-size="7.7" fill="#3AAF4A" stroke="#3AAF4A" stroke-width="0.15">D032</text>
<text x="370.5" y="223" font-size="7.7" fill="#3AAF4A" stroke="#3AAF4A" stroke-width="0.15">D044</text>
<text x="401.8" y="227.1" font-size="7.7" fill="#3AAF4A" stroke="#3AAF4A" stroke-width="0.15">C044</text>
<text x="366" y="233.3" font-size="7.7" fill="#3AAF4A" stroke="#3AAF4A" stroke-width="0.15">D025</text>
<text x="383.5" y="233.3" font-size="7.7" fill="#3AAF4A" stroke="#3AAF4A" stroke-width="0.15">C027</text>
<text x="355.5" y="242.8" font-size="7.7" fill="#3AAF4A" stroke="#3AAF4A" stroke-width="0.15">D020</text>
<text x="373" y="242.8" font-size="7.7" fill="#3AAF4A" stroke="#3AAF4A" stroke-width="0.15">C005</text>
<text x="400" y="243.2" font-size="7.7" fill="#3AAF4A" stroke="#3AAF4A" stroke-width="0.15">C021</text>
<text x="390.6" y="251.3" font-size="7.7" fill="#3AAF4A" stroke="#3AAF4A" stroke-width="0.15">C030</text>
<text x="443.4" y="248" font-size="7.7" fill="#3AAF4A" stroke="#3AAF4A" stroke-width="0.15">C011</text>
<text x="418.5" y="254.8" font-size="7.7" fill="#3AAF4A" stroke="#3AAF4A" stroke-width="0.15">C003</text>
<text x="474.8" y="258.1" font-size="7.7" fill="#3AAF4A" stroke="#3AAF4A" stroke-width="0.15">D031</text>
<text x="400" y="262" font-size="7.7" fill="#3AAF4A" stroke="#3AAF4A" stroke-width="0.15">C041</text>
<text x="431.5" y="263.8" font-size="7.7" fill="#3AAF4A" stroke="#3AAF4A" stroke-width="0.15">C038</text>
<text x="369.6" y="261.3" font-size="7.7" fill="#3AAF4A" stroke="#3AAF4A" stroke-width="0.15">D026</text>
<text x="369.5" y="270" font-size="7.7" fill="#3AAF4A" stroke="#3AAF4A" stroke-width="0.15">D009</text>
<text x="386.2" y="270" font-size="7.7" fill="#3AAF4A" stroke="#3AAF4A" stroke-width="0.15">D002</text>
<text x="408.3" y="270" font-size="7.7" fill="#3AAF4A" stroke="#3AAF4A" stroke-width="0.15">D007</text>
<text x="395" y="279.4" font-size="7.7" fill="#3AAF4A" stroke="#3AAF4A" stroke-width="0.15">C046</text>
<text x="409.4" y="284.4" font-size="7.7" fill="#3AAF4A" stroke="#3AAF4A" stroke-width="0.15">C028</text>
<text x="378" y="301.5" font-size="7.7" fill="#3AAF4A" stroke="#3AAF4A" stroke-width="0.15">D014</text>
<text x="422.8" y="294.6" font-size="7.7" fill="#3AAF4A" stroke="#3AAF4A" stroke-width="0.15">C032</text>
<text x="410" y="304.5" font-size="7.7" fill="#3AAF4A" stroke="#3AAF4A" stroke-width="0.15">D008</text>
<text x="376.2" y="292.3" font-size="7.7" fill="#5C2A85" stroke="#5C2A85" stroke-width="0.15">D002</text>
<text x="399.2" y="295.2" font-size="7.7" fill="#5C2A85" stroke="#5C2A85" stroke-width="0.15">D047</text>
<text x="358.5" y="311.5" font-size="7.7" fill="#5C2A85" stroke="#5C2A85" stroke-width="0.15">C024</text>
<text x="350.7" y="320.8" font-size="7.7" fill="#5C2A85" stroke="#5C2A85" stroke-width="0.15">C001</text>
<text x="376.2" y="320.8" font-size="7.7" fill="#5C2A85" stroke="#5C2A85" stroke-width="0.15">D029</text>
<text x="390" y="330" font-size="7.7" fill="#5C2A85" stroke="#5C2A85" stroke-width="0.15">C005</text>
<text x="354" y="330.3" font-size="7.7" fill="#5C2A85" stroke="#5C2A85" stroke-width="0.15">D006</text>
<text x="369.2" y="339" font-size="7.7" fill="#5C2A85" stroke="#5C2A85" stroke-width="0.15">D016</text>
<text x="390.5" y="344.8" font-size="7.7" fill="#5C2A85" stroke="#5C2A85" stroke-width="0.15">C004</text>
<text x="423.4" y="272.5" font-size="7.7" fill="#F5901E" stroke="#F5901E" stroke-width="0.15">D017</text>
<text x="443.4" y="272.5" font-size="7.7" fill="#F5901E" stroke="#F5901E" stroke-width="0.15">D042</text>
<text x="464" y="268.9" font-size="7.7" fill="#F5901E" stroke="#F5901E" stroke-width="0.15">C014</text>
<text x="426.2" y="282.3" font-size="7.7" fill="#F5901E" stroke="#F5901E" stroke-width="0.15">D024</text>
<text x="447" y="288.5" font-size="7.7" fill="#F5901E" stroke="#F5901E" stroke-width="0.15">D030</text>
<text x="452.3" y="297.6" font-size="7.7" fill="#F5901E" stroke="#F5901E" stroke-width="0.15">C043</text>
<text x="431.5" y="304.6" font-size="7.7" fill="#F5901E" stroke="#F5901E" stroke-width="0.15">C037</text>
<text x="389" y="311.5" font-size="7.7" fill="#F5901E" stroke="#F5901E" stroke-width="0.15">C031</text>
<text x="421.8" y="314.3" font-size="7.7" fill="#F5901E" stroke="#F5901E" stroke-width="0.15">C034</text>
<text x="442.6" y="314.3" font-size="7.7" fill="#F5901E" stroke="#F5901E" stroke-width="0.15">C002</text>
<text x="402.2" y="320.8" font-size="7.7" fill="#F5901E" stroke="#F5901E" stroke-width="0.15">C033</text>
<text x="458" y="324.2" font-size="7.7" fill="#F5901E" stroke="#F5901E" stroke-width="0.15">D005</text>
<text x="410.3" y="333.5" font-size="7.7" fill="#F5901E" stroke="#F5901E" stroke-width="0.15">D018</text>
<text x="442.6" y="333.5" font-size="7.7" fill="#F5901E" stroke="#F5901E" stroke-width="0.15">C035</text>
<text x="424.2" y="342.7" font-size="7.7" fill="#F5901E" stroke="#F5901E" stroke-width="0.15">D012</text>
<text x="424" y="370.6" font-size="7.7" fill="#F5901E" stroke="#F5901E" stroke-width="0.15">D010</text>
<text x="12" y="424.6" font-size="10.5" fill="#000" font-weight="bold">E</text>
<ellipse cx="141.15" cy="489.05" rx="29.3" ry="45.6" transform="rotate(-30.85 141.15 489.05)" fill="#C22034" fill-opacity="0.25" stroke="#C22034" stroke-width="1.5"/>
<ellipse cx="201.3" cy="509.35" rx="48.6" ry="28.45" transform="rotate(-15.95 201.3 509.35)" fill="#006B5B" fill-opacity="0.25" stroke="#0D6F57" stroke-width="1.5"/>
<ellipse cx="110.85" cy="532.15" rx="43.8" ry="22.2" transform="rotate(-45.3 110.85 532.15)" fill="#0E5590" fill-opacity="0.25" stroke="#0E5590" stroke-width="1.5"/>
<ellipse cx="150.55" cy="536.6" rx="14.9" ry="30.55" transform="rotate(-8.5 150.55 536.6)" fill="#30AB43" fill-opacity="0.25" stroke="#30AB43" stroke-width="1.5"/>
<ellipse cx="177.6" cy="570.15" rx="21.9" ry="35.65" transform="rotate(0 177.6 570.15)" fill="#F5901E" fill-opacity="0.25" stroke="#F5901E" stroke-width="1.5"/>
<ellipse cx="129.8" cy="566.9" rx="46.6" ry="10.4" transform="rotate(-47.4 129.8 566.9)" fill="#521A75" fill-opacity="0.25" stroke="#521A75" stroke-width="1.5"/>
<line x1="145.8" y1="501.5" x2="148.1" y2="505.4" stroke="#30AB43" stroke-width="0.65" stroke-linecap="butt"/>
<line x1="139.5" y1="562" x2="148.8" y2="551.9" stroke="#521A75" stroke-width="0.65" stroke-linecap="butt"/>
<line x1="190.8" y1="556.5" x2="197.5" y2="555.9" stroke="#F5901E" stroke-width="0.65" stroke-linecap="butt"/>
<line x1="190.8" y1="556.5" x2="195.4" y2="561.2" stroke="#F5901E" stroke-width="0.65" stroke-linecap="butt"/>
<line x1="155" y1="427" x2="155" y2="641" stroke="#000" stroke-width="1.3" stroke-dasharray="2.7,1.6" stroke-linecap="butt"/>
<line x1="44.5" y1="533.8" x2="265" y2="533.8" stroke="#000" stroke-width="1.3" stroke-dasharray="2.7,1.6" stroke-linecap="butt"/>
<line x1="44.6" y1="426.9" x2="44.6" y2="641.9" stroke="#000" stroke-width="1.6" stroke-linecap="butt"/>
<line x1="43.8" y1="641.1" x2="272.7" y2="641.1" stroke="#000" stroke-width="1.6" stroke-linecap="butt"/>
<line x1="42" y1="436.2" x2="44.5" y2="436.2" stroke="#000" stroke-width="1" stroke-linecap="butt"/>
<text x="40" y="438.8" font-size="7.4" fill="#222" text-anchor="end" stroke="#222" stroke-width="0.15">−5.0</text>
<line x1="42" y1="485" x2="44.5" y2="485" stroke="#000" stroke-width="1" stroke-linecap="butt"/>
<text x="40" y="487.6" font-size="7.4" fill="#222" text-anchor="end" stroke="#222" stroke-width="0.15">−2.5</text>
<line x1="42" y1="533.8" x2="44.5" y2="533.8" stroke="#000" stroke-width="1" stroke-linecap="butt"/>
<text x="40" y="536.4" font-size="7.4" fill="#222" text-anchor="end" stroke="#222" stroke-width="0.15">0.0</text>
<line x1="42" y1="582.6" x2="44.5" y2="582.6" stroke="#000" stroke-width="1" stroke-linecap="butt"/>
<text x="40" y="585.2" font-size="7.4" fill="#222" text-anchor="end" stroke="#222" stroke-width="0.15">2.5</text>
<line x1="42" y1="631.4" x2="44.5" y2="631.4" stroke="#000" stroke-width="1" stroke-linecap="butt"/>
<text x="40" y="634" font-size="7.4" fill="#222" text-anchor="end" stroke="#222" stroke-width="0.15">5.0</text>
<line x1="53.72" y1="641.1" x2="53.72" y2="644.1" stroke="#000" stroke-width="1.1" stroke-linecap="butt"/>
<text x="52.22" y="651.5" font-size="7.4" fill="#222" text-anchor="middle" stroke="#222" stroke-width="0.15">−6</text>
<line x1="104.36" y1="641.1" x2="104.36" y2="644.1" stroke="#000" stroke-width="1.1" stroke-linecap="butt"/>
<text x="102.86" y="651.5" font-size="7.4" fill="#222" text-anchor="middle" stroke="#222" stroke-width="0.15">−3</text>
<line x1="155" y1="641.1" x2="155" y2="644.1" stroke="#000" stroke-width="1.1" stroke-linecap="butt"/>
<text x="155" y="651.5" font-size="7.4" fill="#222" text-anchor="middle" stroke="#222" stroke-width="0.15">0</text>
<line x1="205.64" y1="641.1" x2="205.64" y2="644.1" stroke="#000" stroke-width="1.1" stroke-linecap="butt"/>
<text x="205.64" y="651.5" font-size="7.4" fill="#222" text-anchor="middle" stroke="#222" stroke-width="0.15">3</text>
<line x1="256.28" y1="641.1" x2="256.28" y2="644.1" stroke="#000" stroke-width="1.1" stroke-linecap="butt"/>
<text x="256.28" y="651.5" font-size="7.4" fill="#222" text-anchor="middle" stroke="#222" stroke-width="0.15">6</text>
<text x="104" y="662.8" font-size="8.4" fill="#111" textLength="42.5" lengthAdjust="spacingAndGlyphs" font-weight="bold">Low responder</text>
<line x1="150.3" y1="660.2" x2="158.8" y2="660.2" stroke="#111" stroke-width="1.2" stroke-linecap="butt"/>
<polygon points="147.6,660.2 150.8,658.3 150.8,662.1" fill="#111"/>
<polygon points="161.5,660.2 158.3,658.3 158.3,662.1" fill="#111"/>
<text x="162.4" y="662.8" font-size="8.4" fill="#111" textLength="44.2" lengthAdjust="spacingAndGlyphs" font-weight="bold">High responder</text>
<text x="19.6" y="588.6" font-size="8.4" fill="#111" textLength="45.2" lengthAdjust="spacingAndGlyphs" font-weight="bold" transform="rotate(-90 19.6 588.6)">Higher capacity</text>
<line x1="17.3" y1="529.5" x2="17.3" y2="539.5" stroke="#111" stroke-width="1.2" stroke-linecap="butt"/>
<polygon points="17.3,526.8 15.4,530 19.2,530" fill="#111"/>
<polygon points="17.3,542.2 15.4,539 19.2,539" fill="#111"/>
<text x="19.6" y="525.6" font-size="8.4" fill="#111" textLength="50.4" lengthAdjust="spacingAndGlyphs" font-weight="bold" transform="rotate(-90 19.6 525.6)">Higher sensitivity</text>
<text x="126.9" y="457" font-size="7.6" fill="#C22034" stroke="#C22034" stroke-width="0.15">D035</text>
<text x="108.8" y="469.7" font-size="7.6" fill="#C22034" stroke="#C22034" stroke-width="0.15">D028</text>
<text x="147.7" y="469.1" font-size="7.6" fill="#C22034" stroke="#C22034" stroke-width="0.15">D021B</text>
<text x="101.5" y="482.6" font-size="7.6" fill="#C22034" stroke="#C22034" stroke-width="0.15">D034</text>
<text x="127.5" y="482.6" font-size="7.6" fill="#C22034" stroke="#C22034" stroke-width="0.15">D050</text>
<text x="156" y="502.3" font-size="7.6" fill="#C22034" stroke="#C22034" stroke-width="0.15">D049</text>
<text x="159.5" y="520.7" font-size="7.6" fill="#C22034" stroke="#C22034" stroke-width="0.15">D023</text>
<text x="134.1" y="520.8" font-size="7.6" fill="#C22034" stroke="#C22034" stroke-width="0.15">D033B</text>
<text x="173.2" y="480.8" font-size="7.6" fill="#0D6F57" stroke="#0D6F57" stroke-width="0.15">D036</text>
<text x="194" y="491.5" font-size="7.6" fill="#0D6F57" stroke="#0D6F57" stroke-width="0.15">D005B</text>
<text x="223" y="491" font-size="7.6" fill="#0D6F57" stroke="#0D6F57" stroke-width="0.15">D040</text>
<text x="177.9" y="502" font-size="7.6" fill="#0D6F57" stroke="#0D6F57" stroke-width="0.15">D021</text>
<text x="208.2" y="504.3" font-size="7.6" fill="#0D6F57" stroke="#0D6F57" stroke-width="0.15">D019</text>
<text x="237.8" y="509" font-size="7.6" fill="#0D6F57" stroke="#0D6F57" stroke-width="0.15">D039</text>
<text x="173.2" y="512.2" font-size="7.6" fill="#0D6F57" stroke="#0D6F57" stroke-width="0.15">D038</text>
<text x="189.8" y="515.8" font-size="7.6" fill="#0D6F57" stroke="#0D6F57" stroke-width="0.15">D037</text>
<text x="189.8" y="529.3" font-size="7.6" fill="#0D6F57" stroke="#0D6F57" stroke-width="0.15">D031</text>
<text x="210.3" y="531.5" font-size="7.6" fill="#0D6F57" stroke="#0D6F57" stroke-width="0.15">D039B</text>
<text x="151.8" y="529.5" font-size="7.6" fill="#0D6F57" stroke="#0D6F57" stroke-width="0.15">D027B</text>
<text x="196.6" y="548.6" font-size="7.6" fill="#0D6F57" stroke="#0D6F57" stroke-width="0.15">D038B</text>
<text x="109.4" y="494.9" font-size="7.6" fill="#2A64A0" stroke="#2A64A0" stroke-width="0.15">D027</text>
<text x="101" y="507.6" font-size="7.6" fill="#2A64A0" stroke="#2A64A0" stroke-width="0.15">D015</text>
<text x="119.5" y="509.7" font-size="7.6" fill="#2A64A0" stroke="#2A64A0" stroke-width="0.15">D015B</text>
<text x="110.4" y="519.1" font-size="7.6" fill="#2A64A0" stroke="#2A64A0" stroke-width="0.15">D028</text>
<text x="86" y="528.7" font-size="7.6" fill="#2A64A0" stroke="#2A64A0" stroke-width="0.15">D023B</text>
<text x="68" y="537.1" font-size="7.6" fill="#2A64A0" stroke="#2A64A0" stroke-width="0.15">D004B</text>
<text x="88" y="537.1" font-size="7.6" fill="#2A64A0" stroke="#2A64A0" stroke-width="0.15">D003B</text>
<text x="92.3" y="537.1" font-size="7.6" fill="#2A64A0" stroke="#2A64A0" stroke-width="0.15">D005B</text>
<text x="75" y="548" font-size="7.6" fill="#2A64A0" stroke="#2A64A0" stroke-width="0.15">D003</text>
<text x="119" y="548" font-size="7.6" fill="#2A64A0" stroke="#2A64A0" stroke-width="0.15">D001</text>
<text x="97.2" y="554.7" font-size="7.6" fill="#2A64A0" stroke="#2A64A0" stroke-width="0.15">D004</text>
<text x="77" y="560.8" font-size="7.6" fill="#2A64A0" stroke="#2A64A0" stroke-width="0.15">D013</text>
<text x="100.8" y="563.9" font-size="7.6" fill="#2A64A0" stroke="#2A64A0" stroke-width="0.15">D046</text>
<text x="136" y="501.3" font-size="7.6" fill="#3AAF4A" stroke="#3AAF4A" stroke-width="0.15">D032</text>
<text x="156" y="510.9" font-size="7.6" fill="#3AAF4A" stroke="#3AAF4A" stroke-width="0.15">D044</text>
<text x="118" y="528.4" font-size="7.6" fill="#3AAF4A" stroke="#3AAF4A" stroke-width="0.15">D025</text>
<text x="119.5" y="538.3" font-size="7.6" fill="#3AAF4A" stroke="#3AAF4A" stroke-width="0.15">D020</text>
<text x="140.2" y="538.3" font-size="7.6" fill="#3AAF4A" stroke="#3AAF4A" stroke-width="0.15">D009</text>
<text x="164.4" y="538.3" font-size="7.6" fill="#3AAF4A" stroke="#3AAF4A" stroke-width="0.15">D007</text>
<text x="141.3" y="550.6" font-size="7.6" fill="#3AAF4A" stroke="#3AAF4A" stroke-width="0.15">D022</text>
<text x="120.4" y="557.3" font-size="7.6" fill="#3AAF4A" stroke="#3AAF4A" stroke-width="0.15">D026</text>
<text x="143" y="564.3" font-size="7.6" fill="#3AAF4A" stroke="#3AAF4A" stroke-width="0.15">D014</text>
<text x="162" y="564.1" font-size="7.6" fill="#3AAF4A" stroke="#3AAF4A" stroke-width="0.15">D008</text>
<text x="160.4" y="555" font-size="7.6" fill="#5C2A85" stroke="#5C2A85" stroke-width="0.15">D047</text>
<text x="123.8" y="566.6" font-size="7.6" fill="#5C2A85" stroke="#5C2A85" stroke-width="0.15">D002</text>
<text x="108.5" y="578.7" font-size="7.6" fill="#5C2A85" stroke="#5C2A85" stroke-width="0.15">D006</text>
<text x="138.5" y="577.1" font-size="7.6" fill="#5C2A85" stroke="#5C2A85" stroke-width="0.15">D029</text>
<text x="119.6" y="595.5" font-size="7.6" fill="#5C2A85" stroke="#5C2A85" stroke-width="0.15">D016</text>
<text x="176.4" y="538.9" font-size="7.6" fill="#F5901E" stroke="#F5901E" stroke-width="0.15">D017</text>
<text x="177.2" y="548.8" font-size="7.6" fill="#F5901E" stroke="#F5901E" stroke-width="0.15">D045</text>
<text x="197.2" y="557.9" font-size="7.6" fill="#F5901E" stroke="#F5901E" stroke-width="0.15">D030</text>
<text x="181.5" y="567.9" font-size="7.6" fill="#F5901E" stroke="#F5901E" stroke-width="0.15">D040B</text>
<text x="161.4" y="574.7" font-size="7.6" fill="#F5901E" stroke="#F5901E" stroke-width="0.15">D024</text>
<text x="185.7" y="577" font-size="7.6" fill="#F5901E" stroke="#F5901E" stroke-width="0.15">D005</text>
<text x="205.3" y="583.7" font-size="7.6" fill="#F5901E" stroke="#F5901E" stroke-width="0.15">D022B</text>
<text x="162.2" y="588.3" font-size="7.6" fill="#F5901E" stroke="#F5901E" stroke-width="0.15">D018</text>
<text x="183.4" y="596.7" font-size="7.6" fill="#F5901E" stroke="#F5901E" stroke-width="0.15">D012</text>
<text x="161.8" y="610.1" font-size="7.6" fill="#F5901E" stroke="#F5901E" stroke-width="0.15">D010B</text>
</g>
<rect x="0.5" y="0.5" width="518.2" height="671.2" fill="none" stroke="#000" stroke-width="1.1"/>
<rect x="518.3" y="0" width="1.7" height="673" fill="#000"/>
<rect x="0" y="671.3" width="520" height="1.7" fill="#000"/>
</svg>
</body></html>
